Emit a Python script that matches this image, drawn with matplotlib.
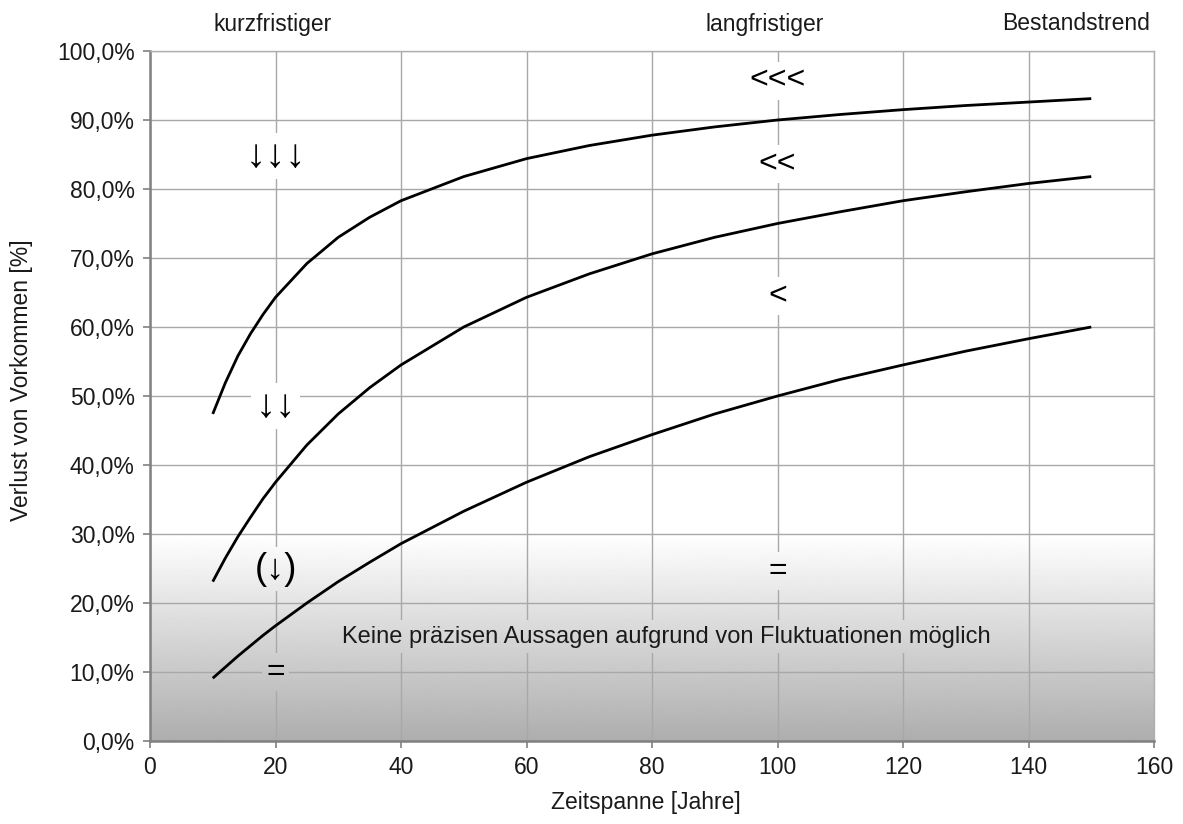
import numpy as np
import matplotlib
matplotlib.use("Agg")
import matplotlib.pyplot as plt
from matplotlib.patches import Rectangle

plt.rcParams['font.family'] = ['Liberation Sans', 'DejaVu Sans']

jahre = [10, 12, 14, 16, 18, 20, 25, 30, 35, 40, 50, 60, 70, 80, 90,
         100, 110, 120, 130, 140, 150]
verlust_stark = [47.4, 51.9, 55.8, 59.0, 61.8, 64.3, 69.2, 73.0, 75.9, 78.3, 81.8,
                 84.4, 86.3, 87.8, 89.0, 90.0, 90.8, 91.5, 92.1, 92.6, 93.1]
verlust_mittel = [23.1, 26.5, 29.6, 32.4, 35.1, 37.5, 42.9, 47.4, 51.2, 54.5, 60.0,
                  64.3, 67.7, 70.6, 73.0, 75.0, 76.7, 78.3, 79.6, 80.8, 81.8]
verlust_gering = [9.1, 10.7, 12.3, 13.8, 15.3, 16.7, 20.0, 23.1, 25.9, 28.6, 33.3,
                  37.5, 41.2, 44.4, 47.4, 50.0, 52.4, 54.5, 56.5, 58.3, 60.0]

x_ticks = [0, 20, 40, 60, 80, 100, 120, 140, 160]
y_ticks = [0, 10, 20, 30, 40, 50, 60, 70, 80, 90, 100]
y_tick_labels = ['0,0%', '10,0%', '20,0%', '30,0%', '40,0%', '50,0%',
                 '60,0%', '70,0%', '80,0%', '90,0%', '100,0%']

# Symbole: (x, y, text, groesse)
symbole_weiss = [(20, 84.8, '↓↓↓', 29), (20, 48.5, '↓↓', 29),
                 (100, 95.7, '<<<', 23), (100, 83.6, '<<', 23), (100, 64.5, '<', 23)]
symbole_grau = [(20, 24.9, '(↓)', 26), (20, 10.0, '=', 23), (100, 24.6, '=', 23)]
hinweis = 'Keine präzisen Aussagen aufgrund von Fluktuationen möglich'
kopf = [(19.5, 'kurzfristiger'), (98, 'langfristiger'), (147.6, 'Bestandstrend')]

fig = plt.figure(figsize=(11.83, 8.24), dpi=100)
ax = fig.add_axes([150 / 1183, 83 / 824, 1004 / 1183, 690 / 824])

# grauer Verlauf unten (30% -> 0%)
grad = np.linspace(1.0, 0.68, 256).reshape(-1, 1)
grad_kw = dict(extent=[0, 160, 0, 30], cmap='gray', vmin=0, vmax=1,
               aspect='auto', origin='upper', interpolation='bilinear')
ax.imshow(grad, zorder=0.2, **grad_kw)

ax.set_axisbelow(True)
ax.grid(True, color='#a8a8a8', linewidth=1.0)

for y in (verlust_stark, verlust_mittel, verlust_gering):
    ax.plot(jahre, y, color='black', linewidth=2.0, zorder=2,
            solid_capstyle='butt')

ax.set_xlim(0, 160)
ax.set_ylim(0, 100)
ax.set_xticks(x_ticks)
ax.set_yticks(y_ticks)
ax.set_yticklabels(y_tick_labels)
ax.tick_params(direction='out', length=5, width=1.2, color='#808080',
               labelsize=16.5, pad=6, labelcolor='#1a1a1a')

for s in ('left', 'bottom'):
    ax.spines[s].set_color('#808080')
    ax.spines[s].set_linewidth(1.8)
for s in ('top', 'right'):
    ax.spines[s].set_color('#b0b0b0')
    ax.spines[s].set_linewidth(1.0)

for x, y, t, fs in symbole_weiss:
    ax.text(x, y, t, fontsize=fs, ha='center', va='center', zorder=3,
            bbox=dict(facecolor='white', edgecolor='none', pad=3))

grau_texte = []
for x, y, t, fs in symbole_grau:
    grau_texte.append(ax.text(x, y, t, fontsize=fs, ha='center', va='center',
                              zorder=3, bbox=dict(facecolor='none',
                                                  edgecolor='none', pad=3)))
grau_texte.append(ax.text(82.3, 15.1, hinweis, fontsize=17, ha='center',
                          va='center', zorder=3, color='#1a1a1a',
                          bbox=dict(facecolor='none', edgecolor='none', pad=4)))

for x, t in kopf:
    ax.text(x, 1 + 27 / 690, t, fontsize=16.5, ha='center', va='center',
            transform=ax.get_xaxis_transform(), color='#1a1a1a')

fig.text(22 / 1183, 1 - 380 / 824, 'Verlust von Vorkommen [%]', rotation=90,
         fontsize=16.5, ha='center', va='center', color='#1a1a1a')
fig.text(646 / 1183, 1 - 803 / 824, 'Zeitspanne [Jahre]', fontsize=16.5,
         ha='center', va='center', color='#1a1a1a')

# Gitterlinien hinter den Beschriftungen im grauen Bereich ausblenden
fig.canvas.draw()
renderer = fig.canvas.get_renderer()
inv = ax.transData.inverted()
for t in grau_texte:
    bb = t.get_bbox_patch().get_window_extent(renderer)
    (x0, y0), (x1, y1) = inv.transform([[bb.x0, bb.y0], [bb.x1, bb.y1]])
    im = ax.imshow(grad, zorder=1, **grad_kw)
    im.set_clip_path(Rectangle((x0, y0), x1 - x0, y1 - y0,
                               transform=ax.transData))

ax.set_xlim(0, 160)
ax.set_ylim(0, 100)

fig.savefig('out.png', dpi=100)
